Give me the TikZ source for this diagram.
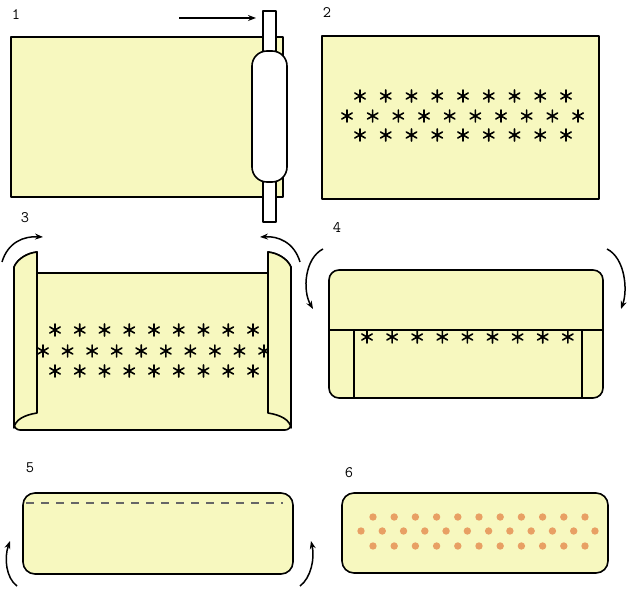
\documentclass[tikz,border=0pt]{standalone}
\usetikzlibrary{arrows.meta}
\definecolor{dough}{HTML}{F7F8BF}
\definecolor{dotc}{HTML}{E8A064}
\definecolor{dashc}{HTML}{666666}
\tikzset{
  outl/.style={draw=black,line width=1.6pt,line join=round},
  doughfill/.style={outl,fill=dough},
  arr/.style={line width=1.5pt,-{Stealth[length=8pt,width=6pt]}},
  lbl/.style={font=\ttfamily\fontsize{16}{16}\selectfont,inner sep=0pt},
  astk/.pic={\draw[line width=1.6pt,line cap=round] (0,-6)--(0,6) (-5.2,-3)--(5.2,3) (-5.2,3)--(5.2,-3);},
  dotp/.style={fill=dotc,draw=none}
}
\begin{document}
\begin{tikzpicture}[x=1pt,y=-1pt]
\useasboundingbox (0,0) rectangle (640,601);
% ---------- panel 1
\node[lbl] (l1) at (16,15) {1};
\draw[doughfill] (11,37) rectangle (283,197);
\draw[outl,fill=white] (263,11) rectangle (276,222);
\draw[outl,fill=white,rounded corners=15pt] (252,51) rectangle (287,182);
\coordinate (a1s) at (179,18);
\coordinate (a1e) at (256,18);
\draw[arr] (a1s) -- (a1e);
% ---------- panel 2
\node[lbl] (l2) at (327,13) {2};
\draw[doughfill] (322,36) rectangle (599,199);
\foreach \i in {0,...,8} {
  \pic at ({360+25.75*\i},96) {astk};
  \pic at ({360+25.75*\i},135) {astk};
}
\foreach \i in {0,...,9} {\pic at ({347+25.67*\i},116) {astk};}
% ---------- panel 3
\node[lbl] (l3) at (25,218) {3};
\draw[doughfill] (14,267) .. controls (18,258) and (28,253) .. (37,252) -- (37,273) -- (268,273) -- (268,252)
  .. controls (277,253) and (287,258) .. (291,267) -- (291,424) arc[start angle=0,end angle=90,radius=6] -- (20,430)
  arc[start angle=90,end angle=180,radius=6] -- cycle;
\foreach \i in {0,...,8} {
  \pic at ({55+24.75*\i},330) {astk};
  \pic at ({55+24.75*\i},371) {astk};
}
\foreach \i in {0,...,9} {\pic at ({43+24.56*\i},351) {astk};}
% left flap
\draw[doughfill] (14,267) .. controls (18,258) and (28,253) .. (37,252) -- (37,413)
  .. controls (24,415) and (15,420) .. (14,428) -- cycle;
% right flap
\draw[doughfill] (291,267) .. controls (287,258) and (277,253) .. (268,252) -- (268,413)
  .. controls (281,415) and (290,420) .. (291,428) -- cycle;
\coordinate (a3ls) at (2,262);
\coordinate (a3le) at (43,237);
\coordinate (a3rs) at (300,262);
\coordinate (a3re) at (260,237);
\draw[arr] (a3ls) .. controls (8,242) and (24,236) .. (a3le);
\draw[arr] (a3rs) .. controls (294,242) and (278,236) .. (a3re);
% ---------- panel 4
\node[lbl] (l4) at (337,228) {4};
\draw[doughfill,rounded corners=10pt] (329,270) rectangle (603,398);
\draw[outl] (329,330) -- (603,330);
\draw[outl] (354,330) -- (354,398);
\draw[outl] (582,330) -- (582,398);
\foreach \i in {0,...,8} {\pic at ({367+25.1*\i},337) {astk};}
\coordinate (a4ls) at (323,249);
\coordinate (a4le) at (313,309);
\coordinate (a4rs) at (607,249);
\coordinate (a4re) at (621,309);
\draw[arr] (a4ls) .. controls (305,258) and (302,290) .. (a4le);
\draw[arr] (a4rs) .. controls (625,258) and (628,290) .. (a4re);
% ---------- panel 5
\node[lbl] (l5) at (30,468) {5};
\draw[doughfill,rounded corners=12pt] (23,493) rectangle (293,574);
\draw[dashc,line width=1.6pt,dash pattern=on 8pt off 7pt] (26,503) -- (283,503);
\coordinate (a5ls) at (17,586);
\coordinate (a5le) at (10,541);
\coordinate (a5rs) at (300,586);
\coordinate (a5re) at (311,541);
\draw[arr] (a5ls) .. controls (6,578) and (4,558) .. (a5le);
\draw[arr] (a5rs) .. controls (311,578) and (315,558) .. (a5re);
% ---------- panel 6
\node[lbl] (l6) at (349,473) {6};
\draw[doughfill,rounded corners=12pt] (342,493) rectangle (608,573);
\foreach \i in {0,...,10} {
  \fill[dotp] ({373+21.2*\i},517) circle (3.7);
  \fill[dotp] ({373+21.2*\i},546) circle (3.7);
}
\foreach \i in {0,...,11} {\fill[dotp] ({361+21.27*\i},531) circle (3.7);}
\end{tikzpicture}
\end{document}
